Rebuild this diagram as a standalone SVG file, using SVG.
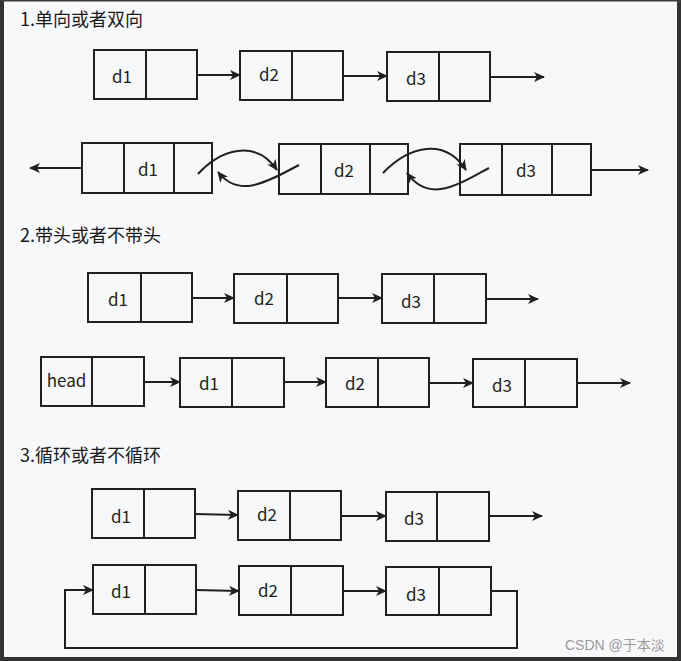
<svg xmlns="http://www.w3.org/2000/svg" width="681" height="661" viewBox="0 0 681 661">
<style>
.bx{fill:none;stroke:#231f20;stroke-width:2}
.ln{fill:none;stroke:#231f20;stroke-width:2}
.lb{font-family:"Noto Sans CJK SC","Noto Sans",sans-serif;font-size:17px;fill:#231f20;text-anchor:middle}
.ti{font-family:"Noto Sans CJK SC","Noto Sans",sans-serif;font-size:18px;fill:#1a1a1a}
.wm{font-family:"Liberation Sans","Noto Sans CJK SC",sans-serif;font-size:14px;fill:#9a9a9a}
</style>
<defs>
<marker id="ah" markerUnits="userSpaceOnUse" markerWidth="12" markerHeight="10" refX="10" refY="5" orient="auto">
<path d="M0,0 L11,5 L0,10 L3,5 Z" fill="#231f20"/>
</marker>
</defs>
<rect x="0" y="0" width="681" height="661" fill="#f7f8fa"/>
<rect x="0" y="0" width="4" height="661" fill="#333333"/>
<rect x="677" y="0" width="4" height="661" fill="#333333"/>
<rect x="0" y="657" width="681" height="4" fill="#333333"/>
<rect x="0" y="0" width="681" height="1.5" fill="#3a3a3a"/>

<text class="ti" x="20" y="26">1.单向或者双向</text>
<text class="ti" x="20" y="242">2.带头或者不带头</text>
<text class="ti" x="20" y="462">3.循环或者不循环</text>

<!-- Row 1 -->
<g id="r1n1"><rect class="bx" x="94" y="50" width="103" height="49"/><line class="bx" x1="146" y1="50" x2="146" y2="99"/><text class="lb" x="122" y="83">d1</text></g>
<g id="r1n2"><rect class="bx" x="240" y="51" width="103" height="49"/><line class="bx" x1="292" y1="51" x2="292" y2="100"/><text class="lb" x="269" y="81">d2</text></g>
<g id="r1n3"><rect class="bx" x="387" y="52" width="103" height="49"/><line class="bx" x1="439" y1="52" x2="439" y2="101"/><text class="lb" x="416" y="85">d3</text></g>

<!-- Row 2 -->
<g id="r2n1"><rect class="bx" x="82" y="143" width="130" height="50"/><line class="bx" x1="124" y1="143" x2="124" y2="193"/><line class="bx" x1="174" y1="143" x2="174" y2="193"/><text class="lb" x="148" y="176">d1</text></g>
<g id="r2n2"><rect class="bx" x="279" y="144" width="129" height="50"/><line class="bx" x1="321" y1="144" x2="321" y2="194"/><line class="bx" x1="370" y1="144" x2="370" y2="194"/><text class="lb" x="344" y="177">d2</text></g>
<g id="r2n3"><rect class="bx" x="460" y="144" width="131" height="51"/><line class="bx" x1="502" y1="144" x2="502" y2="195"/><line class="bx" x1="552" y1="144" x2="552" y2="195"/><text class="lb" x="526" y="177">d3</text></g>

<!-- Row 3 -->
<g id="r3n1"><rect class="bx" x="88" y="273" width="104" height="49"/><line class="bx" x1="141" y1="273" x2="141" y2="322"/><text class="lb" x="118" y="306">d1</text></g>
<g id="r3n2"><rect class="bx" x="234" y="274" width="104" height="49"/><line class="bx" x1="287" y1="274" x2="287" y2="323"/><text class="lb" x="264" y="305">d2</text></g>
<g id="r3n3"><rect class="bx" x="382" y="274" width="104" height="49"/><line class="bx" x1="434" y1="274" x2="434" y2="324"/><text class="lb" x="411" y="308">d3</text></g>

<!-- Row 4 -->
<g id="r4head"><rect class="bx" x="41" y="357" width="103" height="49"/><line class="bx" x1="92" y1="357" x2="92" y2="406"/><text class="lb" x="66.5" y="387">head</text></g>
<g id="r4n1"><rect class="bx" x="180" y="358" width="104" height="49"/><line class="bx" x1="232" y1="358" x2="232" y2="407"/><text class="lb" x="209" y="390">d1</text></g>
<g id="r4n2"><rect class="bx" x="326" y="358" width="103" height="49"/><line class="bx" x1="378" y1="358" x2="378" y2="407"/><text class="lb" x="355" y="390">d2</text></g>
<g id="r4n3"><rect class="bx" x="473" y="359" width="104" height="48"/><line class="bx" x1="525" y1="359" x2="525" y2="408"/><text class="lb" x="502" y="392">d3</text></g>

<!-- Row 5 -->
<g id="r5n1"><rect class="bx" x="92" y="489" width="103" height="49"/><line class="bx" x1="144" y1="489" x2="144" y2="538"/><text class="lb" x="121" y="523">d1</text></g>
<g id="r5n2"><rect class="bx" x="238" y="491" width="103" height="49"/><line class="bx" x1="290" y1="491" x2="290" y2="540"/><text class="lb" x="267" y="521">d2</text></g>
<g id="r5n3"><rect class="bx" x="386" y="492" width="103" height="49"/><line class="bx" x1="437" y1="492" x2="437" y2="542"/><text class="lb" x="414" y="525">d3</text></g>

<!-- Row 6 -->
<g id="r6n1"><rect class="bx" x="93" y="565" width="103" height="49"/><line class="bx" x1="145" y1="565" x2="145" y2="614"/><text class="lb" x="121" y="598">d1</text></g>
<g id="r6n2"><rect class="bx" x="239" y="566" width="104" height="49"/><line class="bx" x1="291" y1="566" x2="291" y2="615"/><text class="lb" x="268" y="597">d2</text></g>
<g id="r6n3"><rect class="bx" x="386" y="567" width="105" height="48"/><line class="bx" x1="439" y1="567" x2="439" y2="616"/><text class="lb" x="416" y="601">d3</text></g>

<g id="connectors">
<line class="ln" x1="197" y1="75" x2="240" y2="75" marker-end="url(#ah)"/>
<line class="ln" x1="343" y1="76" x2="387" y2="76" marker-end="url(#ah)"/>
<line class="ln" x1="490" y1="77" x2="544" y2="77" marker-end="url(#ah)"/>

<line class="ln" x1="82" y1="168" x2="30" y2="168" marker-end="url(#ah)"/>
<line class="ln" x1="591" y1="170" x2="648" y2="170" marker-end="url(#ah)"/>
<path class="ln" d="M198,174 C220,150 255,138 277,170" marker-end="url(#ah)"/>
<path class="ln" d="M299,165 C270,180 240,200 218,172" marker-end="url(#ah)"/>
<path class="ln" d="M383,173 C410,145 445,138 466,170" marker-end="url(#ah)"/>
<path class="ln" d="M489,168 C460,183 430,205 407,173" marker-end="url(#ah)"/>

<line class="ln" x1="192" y1="298" x2="234" y2="298" marker-end="url(#ah)"/>
<line class="ln" x1="338" y1="298" x2="382" y2="298" marker-end="url(#ah)"/>
<line class="ln" x1="486" y1="299" x2="538" y2="299" marker-end="url(#ah)"/>

<line class="ln" x1="144" y1="382" x2="180" y2="382" marker-end="url(#ah)"/>
<line class="ln" x1="284" y1="382" x2="326" y2="382" marker-end="url(#ah)"/>
<line class="ln" x1="429" y1="383" x2="473" y2="383" marker-end="url(#ah)"/>
<line class="ln" x1="577" y1="383" x2="630" y2="383" marker-end="url(#ah)"/>

<line class="ln" x1="195" y1="514" x2="238" y2="515" marker-end="url(#ah)"/>
<line class="ln" x1="341" y1="516" x2="386" y2="516" marker-end="url(#ah)"/>
<line class="ln" x1="489" y1="516" x2="542" y2="516" marker-end="url(#ah)"/>

<line class="ln" x1="196" y1="590" x2="239" y2="591" marker-end="url(#ah)"/>
<line class="ln" x1="343" y1="591" x2="386" y2="591" marker-end="url(#ah)"/>
<path class="ln" d="M491,591 H517 V648 H65 V590 H93" marker-end="url(#ah)"/>
</g>

<text class="wm" x="565" y="650">CSDN @于本淡</text>
</svg>
